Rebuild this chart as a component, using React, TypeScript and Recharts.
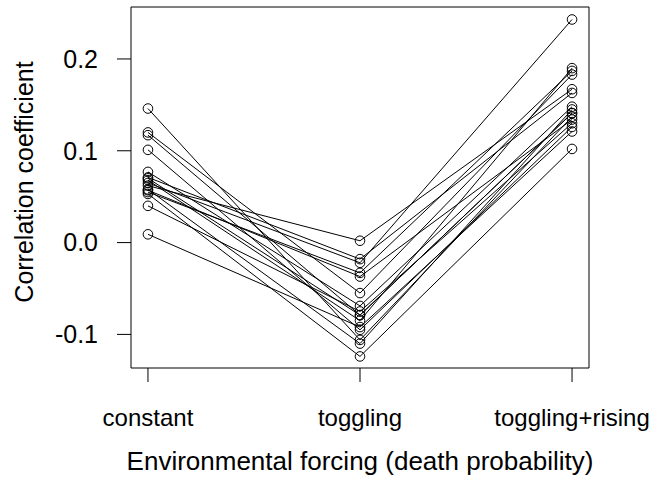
import { LineChart, Line, XAxis, YAxis, ReferenceArea } from "recharts";

const categories = ["constant", "toggling", "toggling+rising"];

// one entry per replicate run, same order in all three
const constantValues = [0.146, 0.12, 0.117, 0.101, 0.077, 0.071, 0.068, 0.065, 0.062, 0.058, 0.055, 0.053, 0.057, 0.04, 0.009, 0.07];
const togglingValues = [-0.106, -0.055, -0.079, -0.095, -0.069, -0.018, -0.085, -0.022, 0.002, -0.11, -0.033, -0.124, -0.037, -0.075, -0.092, -0.079];
const risingValues = [0.137, 0.183, 0.141, 0.126, 0.148, 0.163, 0.19, 0.243, 0.167, 0.145, 0.187, 0.102, 0.134, 0.13, 0.121, 0.141];

const yTicks = [-0.1, 0, 0.1, 0.2];

const series = [constantValues, togglingValues, risingValues];
const runKeys = constantValues.map((_, i) => `run${i}`);
const data = categories.map((_, c) => {
  const row: Record<string, number> = { x: c + 1 };
  runKeys.forEach((k, i) => {
    row[k] = series[c][i];
  });
  return row;
});

const font = "'Liberation Sans', Arial, Helvetica, sans-serif";
const xDomain: [number, number] = [0.92, 3.08];
const yDomain: [number, number] = [-0.1366, 0.2566];

export default function App() {
  return (
    <div style={{ position: "absolute", left: 0, top: 0, background: "#fff" }}>
      <LineChart
        width={659}
        height={498}
        data={data}
        margin={{ top: 7, right: 70, bottom: 0, left: 0 }}
      >
        <XAxis
          type="number"
          dataKey="x"
          domain={xDomain}
          ticks={[1, 2, 3]}
          tickFormatter={(v: number) => categories[v - 1]}
          axisLine={false}
          stroke="#000"
          tickSize={14}
          tickMargin={27}
          height={130}
          tick={{ fill: "#000", fontSize: 24, fontFamily: font }}
          label={{
            content: () => (
              <text x={360} y={470} textAnchor="middle" fill="#000" fontSize={26} fontFamily={font}>
                Environmental forcing (death probability)
              </text>
            ),
          }}
        />
        <YAxis
          type="number"
          domain={yDomain}
          ticks={yTicks}
          tickFormatter={(v: number) => v.toFixed(1)}
          axisLine={false}
          stroke="#000"
          tickSize={14}
          tickMargin={19}
          width={131}
          tick={{ fill: "#000", fontSize: 25, fontFamily: font }}
          label={{
            content: () => (
              <text
                transform="translate(33,182) rotate(-90)"
                textAnchor="middle"
                fill="#000"
                fontSize={25}
                fontFamily={font}
              >
                Correlation coefficient
              </text>
            ),
          }}
        />
        <ReferenceArea
          x1={xDomain[0]}
          x2={xDomain[1]}
          y1={yDomain[0]}
          y2={yDomain[1]}
          fill="none"
          stroke="#000"
          strokeWidth={1}
          ifOverflow="visible"
        />
        {runKeys.map((k) => (
          <Line
            key={k}
            dataKey={k}
            stroke="#000"
            strokeWidth={1}
            dot={{ r: 4.8, fill: "none", stroke: "#000", strokeWidth: 1 }}
            activeDot={false}
            isAnimationActive={false}
          />
        ))}
      </LineChart>
    </div>
  );
}
